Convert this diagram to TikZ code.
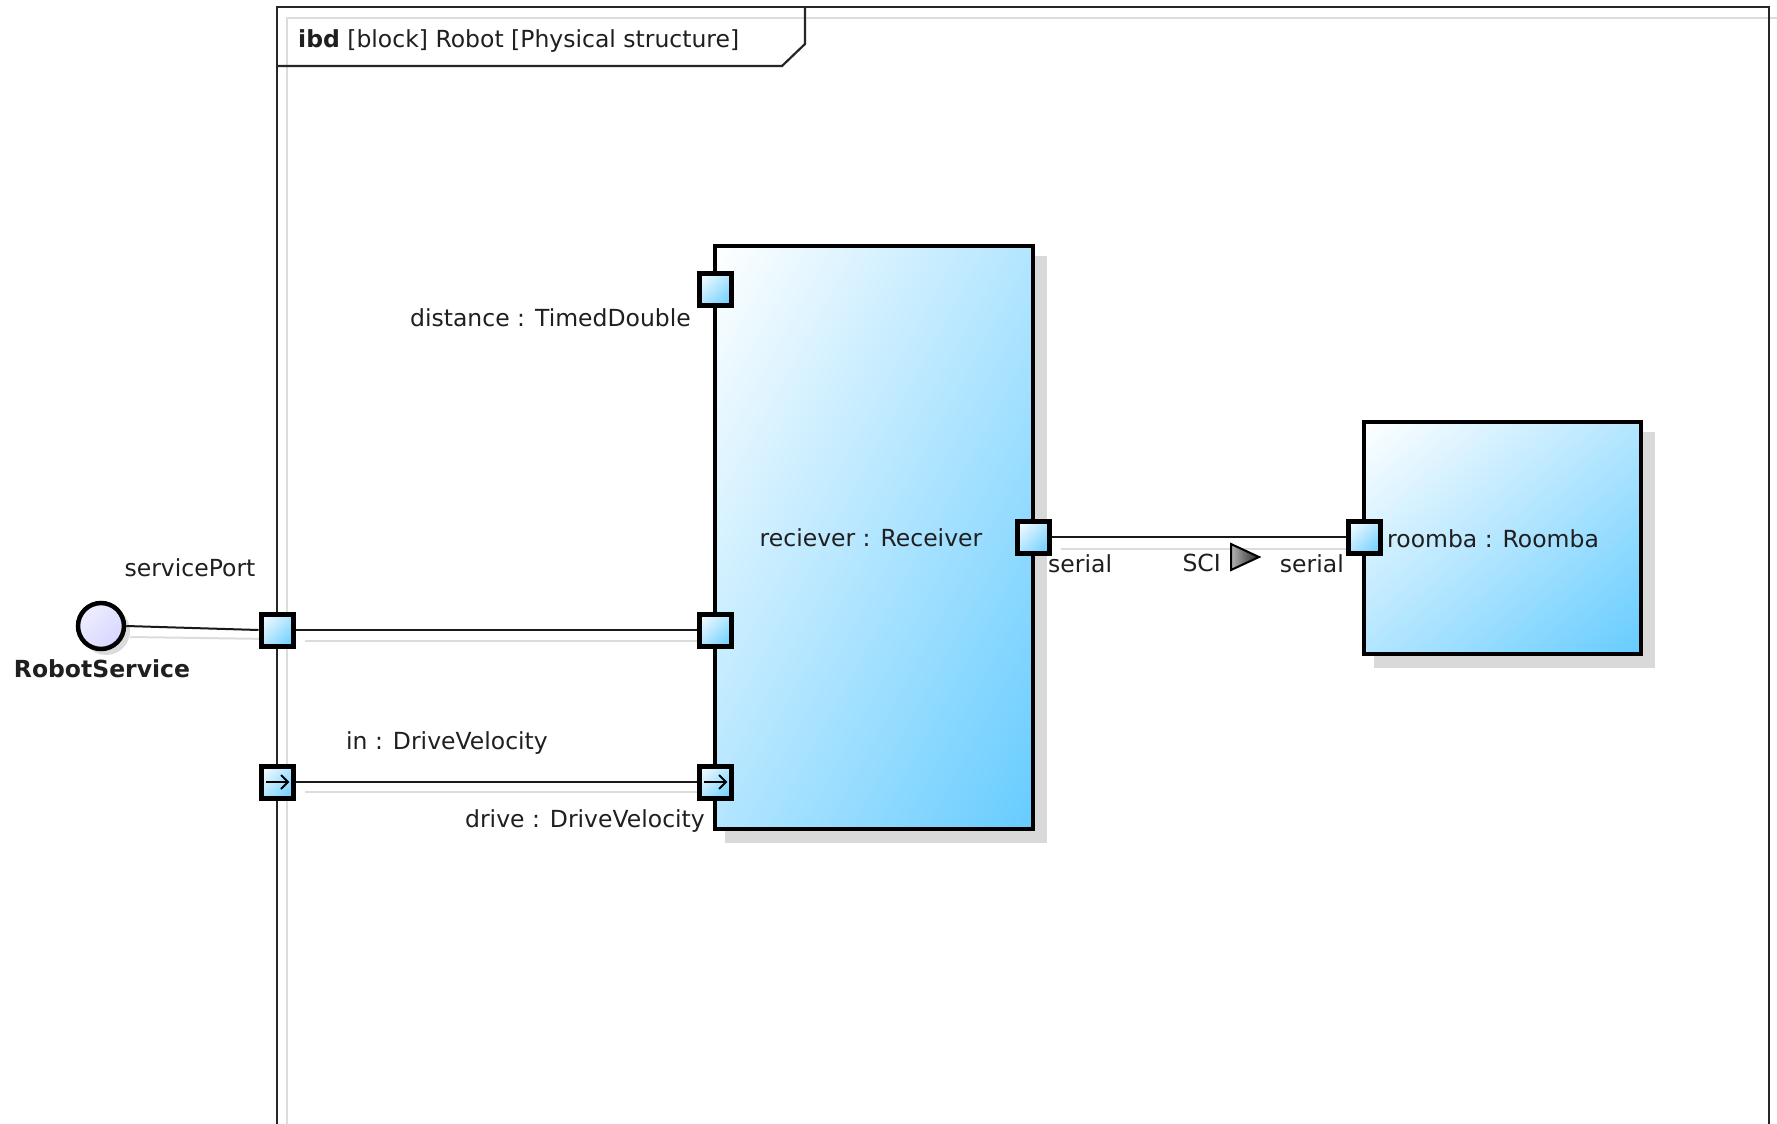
\documentclass[tikz,border=0pt]{standalone}
\usepackage{fontspec}
\setmainfont{DejaVu Sans}
\usetikzlibrary{backgrounds,shadings}
\definecolor{bend}{HTML}{66CCFF}
\colorlet{bmid}{white!50!bend}
\definecolor{lavA}{HTML}{F2F2FF}
\definecolor{lavB}{HTML}{D2D2FF}
\colorlet{lavM}{lavA!50!lavB}
\definecolor{shadowc}{HTML}{D9D9D9}
\definecolor{lineshadow}{HTML}{DCDCDC}
\colorlet{framec}{black!85}
\begin{document}
\begin{tikzpicture}[x=1pt,y=-1pt,
  txt/.style={font=\fontsize{23.5}{28}\selectfont, text=black!88, inner sep=0pt},
  txtb/.style={txt, font=\fontsize{23.5}{28}\selectfont\bfseries},
  blk/.style={draw=black, line width=4.5pt, rectangle, inner sep=0pt,
    upper left=white, upper right=bmid, lower left=bmid, lower right=bend},
  port/.style={blk, line width=5pt, minimum size=32pt},
  inarrow/.style={path picture={\draw[line width=1.8pt, black]
      ([xshift=5pt]path picture bounding box.west) -- ([xshift=-5pt]path picture bounding box.east)
      ([shift={(-12,-7)}]path picture bounding box.east) -- ([xshift=-5pt]path picture bounding box.east)
      -- ([shift={(-12,7)}]path picture bounding box.east);}},
  conn/.style={draw=black!90, line width=2pt},
  connshadow/.style={draw=lineshadow, line width=2pt},
]
\useasboundingbox (0,0) rectangle (1777,1124);

% frame shadow and frame
\draw[lineshadow, line width=2pt] (287,1140) -- (287,18) -- (1790,18);
\draw[framec, line width=2.2pt] (277,1140) -- (277,7) -- (1769,7) -- (1769,1140);
\draw[framec, line width=2.2pt] (277,66) -- (782,66) -- (805,44) -- (805,7);
\node[txt, anchor=base west] (title) at (298,48) {\textbf{ibd} [block] Robot [Physical structure]};

% blocks
\node[blk, minimum width=318pt, minimum height=583pt] (rcv) at (874,537.5) {};
\node[blk, minimum width=277pt, minimum height=232pt] (roomba) at (1502.5,538) {};
\node[txt, anchor=base] (rcvlbl) at (871,546) {reciever : Receiver};
\node[txt, anchor=base west] (roomlbl) at (1387,547) {roomba : Roomba};

% service circle
\node[circle, draw=black, line width=4.5pt, minimum size=46pt, inner sep=0pt,
  upper left=lavA, upper right=lavM, lower left=lavM, lower right=lavB] (svc) at (101,626) {};

% ports
\node[port] (pDist) at (715,289) {};
\node[port] (pRcvSvc) at (715,630) {};
\node[port] (pFrameSvc) at (277,630) {};
\node[port, inarrow] (pFrameIn) at (277,782) {};
\node[port, inarrow] (pDrive) at (715,782) {};
\node[port] (pRcvSerial) at (1033,537) {};
\node[port] (pRoomSerial) at (1364,537) {};

\begin{scope}[on background layer]
  \fill[white] (0,0) rectangle (1777,1124);
  % block shadows
  \fill[shadowc] ([shift={(12,12)}]rcv.north west) rectangle ([shift={(12,12)}]rcv.south east);
  \fill[shadowc] ([shift={(12,12)}]roomba.north west) rectangle ([shift={(12,12)}]roomba.south east);
  \fill[black!14] ([shift={(5,5)}]svc.center) circle (24);
  % connector shadows
  \draw[connshadow] ([shift={(4,11)}]svc.east) -- ([shift={(13,9)}]pFrameSvc.west);
  \draw[connshadow] ([shift={(9,11)}]pFrameSvc.east) -- ([shift={(13,11)}]pRcvSvc.west);
  \draw[connshadow] ([shift={(9,10)}]pFrameIn.east) -- ([shift={(13,10)}]pDrive.west);
  \draw[connshadow] ([shift={(9,12)}]pRcvSerial.east) -- ([shift={(12,12)}]pRoomSerial.west);
  % connectors
  \draw[conn] (svc.east) -- (pFrameSvc.west);
  \draw[conn] (pFrameSvc.east) -- (pRcvSvc.west);
  \draw[conn] (pFrameIn.east) -- (pDrive.west);
  \draw[conn] (pRcvSerial.east) -- (pRoomSerial.west);
\end{scope}

% SCI direction triangle
\draw[black, line width=2pt, left color=black!30, right color=black!85]
  (1231,544) -- (1259,557) -- (1231,570) -- cycle;

% labels
\node[txt, anchor=base east] (lDist) at (691,326) {distance : TimedDouble};
\node[txt, anchor=base] (lSvcPort) at (190,576) {servicePort};
\node[txtb, anchor=base] (lSvc) at (102,677) {RobotService};
\node[txt, anchor=base west] (lIn) at (346,749) {in : DriveVelocity};
\node[txt, anchor=base east] (lDrive) at (705,827) {drive : DriveVelocity};
\node[txt, anchor=base west] (lSerL) at (1048,572) {serial};
\node[txt, anchor=base east] (lSCI) at (1221,571) {SCI};
\node[txt, anchor=base east] (lSerR) at (1344,572) {serial};
\end{tikzpicture}
\end{document}
